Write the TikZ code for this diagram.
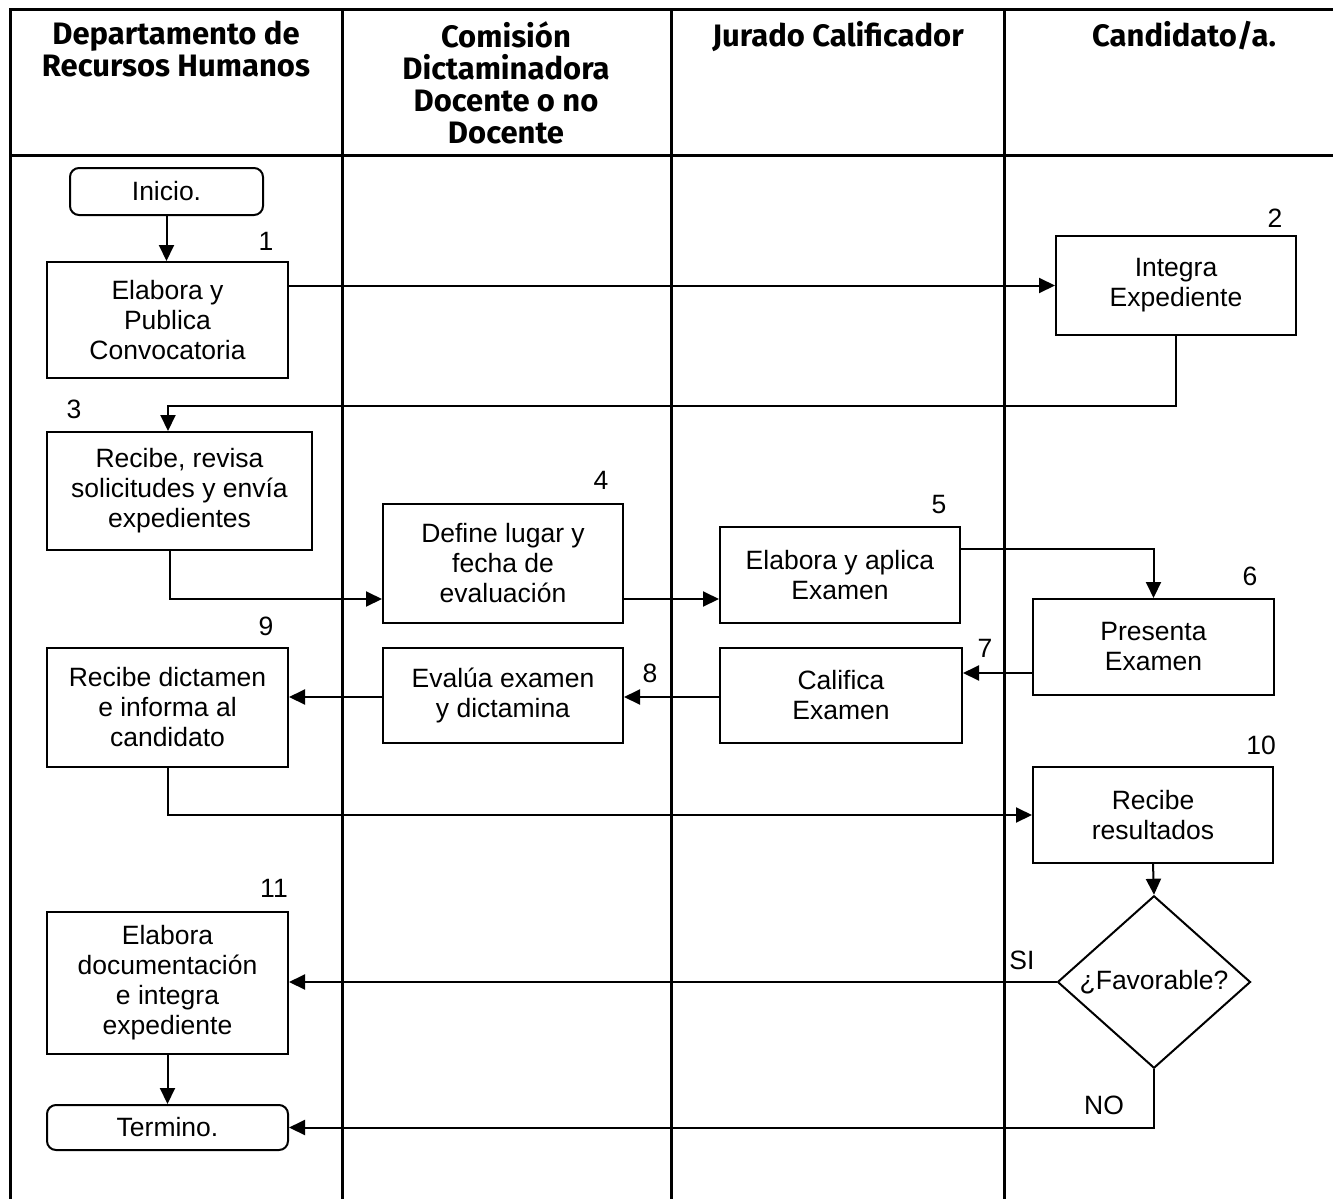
\documentclass[tikz,border=0pt]{standalone}
\usepackage{fontspec}
\setmainfont{Liberation Sans}
\newfontfamily\headfont{Fira Sans}
\usetikzlibrary{arrows.meta, positioning, shapes.geometric}
\tikzset{box/.style={rectangle,draw,line width=2pt,align=center,inner sep=0pt,minimum width=241pt},
  term/.style={box,rounded corners=9pt},
  decision/.style={diamond,draw,line width=2pt,inner sep=0pt,minimum width=193pt,minimum height=143pt},
  num/.style={inner sep=0pt},
  lane/.style={line width=3pt},
  head/.style={align=center,inner sep=0pt,anchor=north,font=\headfont\bfseries\fontsize{31}{32}\selectfont},
  line/.style={-{Triangle[length=16pt,width=15pt]},line width=2pt}}

\begin{document}
\begin{tikzpicture}[x=1pt,y=-1pt,font=\fontsize{26.5}{30}\selectfont]
\useasboundingbox (0,0) rectangle (1333,1199);
% swimlanes
\draw[lane] (10,1199) -- (10,10) -- (1333,10);
\draw[lane] (10,155) -- (1333,155);
\foreach \x in {342,671,1004}
  \draw[lane] (\x,10) -- (\x,1199);
\node[head] (h1) at (176,21) {Departamento de\\Recursos Humanos};
\node[head] (h2) at (506,21) {Comisión\\Dictaminadora\\Docente o no\\Docente};
\node[head] (h3) at (838,21) {Jurado Calificador};
\node[head] (h4) at (1184,21) {Candidato/a.};

% steps
\node[term, minimum width=193pt, minimum height=47pt] (ini) at (166.5,191.5) {Inicio.};
\node[box, minimum height=116pt] (b1) at (167.5,320) {Elabora y\\Publica\\Convocatoria};
\node[box, minimum width=240pt, minimum height=99pt] (b2) at (1176,285.5) {Integra\\Expediente};
\node[box, minimum width=265pt, minimum height=118pt] (b3) at (179.5,491) {Recibe, revisa\\solicitudes y envía\\expedientes};
\node[box, minimum width=240pt, minimum height=119pt] (b4) at (503,563.5) {Define lugar y\\fecha de\\evaluación};
\node[box, minimum width=240pt, minimum height=96pt] (b5) at (840,575) {Elabora y aplica\\Examen};
\node[box, minimum height=96pt] (b6) at (1153.5,647) {Presenta\\Examen};
\node[box, minimum width=242pt, minimum height=95pt] (b7) at (841,695.5) {Califica\\Examen};
\node[box, minimum width=240pt, minimum height=95pt] (b8) at (503,695.5) {Evalúa examen\\y dictamina};
\node[box, minimum height=119pt] (b9) at (167.5,707.5) {Recibe dictamen\\e informa al\\candidato};
\node[box, minimum width=240pt, minimum height=96pt] (b10) at (1153,815) {Recibe\\resultados};
\node[decision] (fav) at (1154,982) {¿Favorable?};
\node[box, minimum height=142pt] (b11) at (167.5,983) {Elabora\\documentación\\e integra\\expediente};
\node[term, minimum height=45pt] (fin) at (167.5,1127.5) {Termino.};

% step numbers
\node[num] (n1) at (266,241) {1};
\node[num] (n2) at (1275,218) {2};
\node[num] (n3) at (74,409) {3};
\node[num] (n4) at (601,480) {4};
\node[num] (n5) at (939,505) {5};
\node[num] (n6) at (1250,576) {6};
\node[num] (n7) at (985,648) {7};
\node[num] (n8) at (650,673) {8};
\node[num] (n9) at (266,626) {9};
\node[num] (n10) at (1261,745) {10};
\node[num] (n11) at (274,888) {11};
\node[num] (si) at (1022,960) {SI};
\node[num] (no) at (1104,1105) {NO};

% flow
\coordinate (j1) at (168,406);
\coordinate (j2) at (170,599);
\draw[line] (ini.south) -- (ini.south |- b1.north);
\draw[line] (b1.east |- b2.west) -- (b2.west);
\draw[line] (b2.south) |- (j1) -- (j1 |- b3.north);
\draw[line] (j2 |- b3.south) -- (j2) -- (j2 -| b4.west);
\draw[line] (b4.east |- j2) -- (b5.west |- j2);
\draw[line] (b5.east |- 0,549) -| (b6.north);
\draw[line] (b6.west |- 0,673) -- (b7.east |- 0,673);
\draw[line] (b7.west |- 0,697) -- (b8.east |- 0,697);
\draw[line] (b8.west |- 0,697) -- (b9.east |- 0,697);
\draw[line] (b9.south) |- (b10.west);
\draw[line] (b10.south) -- (fav.north);
\draw[line] (fav.west) -- (fav.west -| b11.east);
\draw[line] (fav.south) |- (fin.east);
\draw[line] (b11.south) -- (fin.north);
\end{tikzpicture}
\end{document}
